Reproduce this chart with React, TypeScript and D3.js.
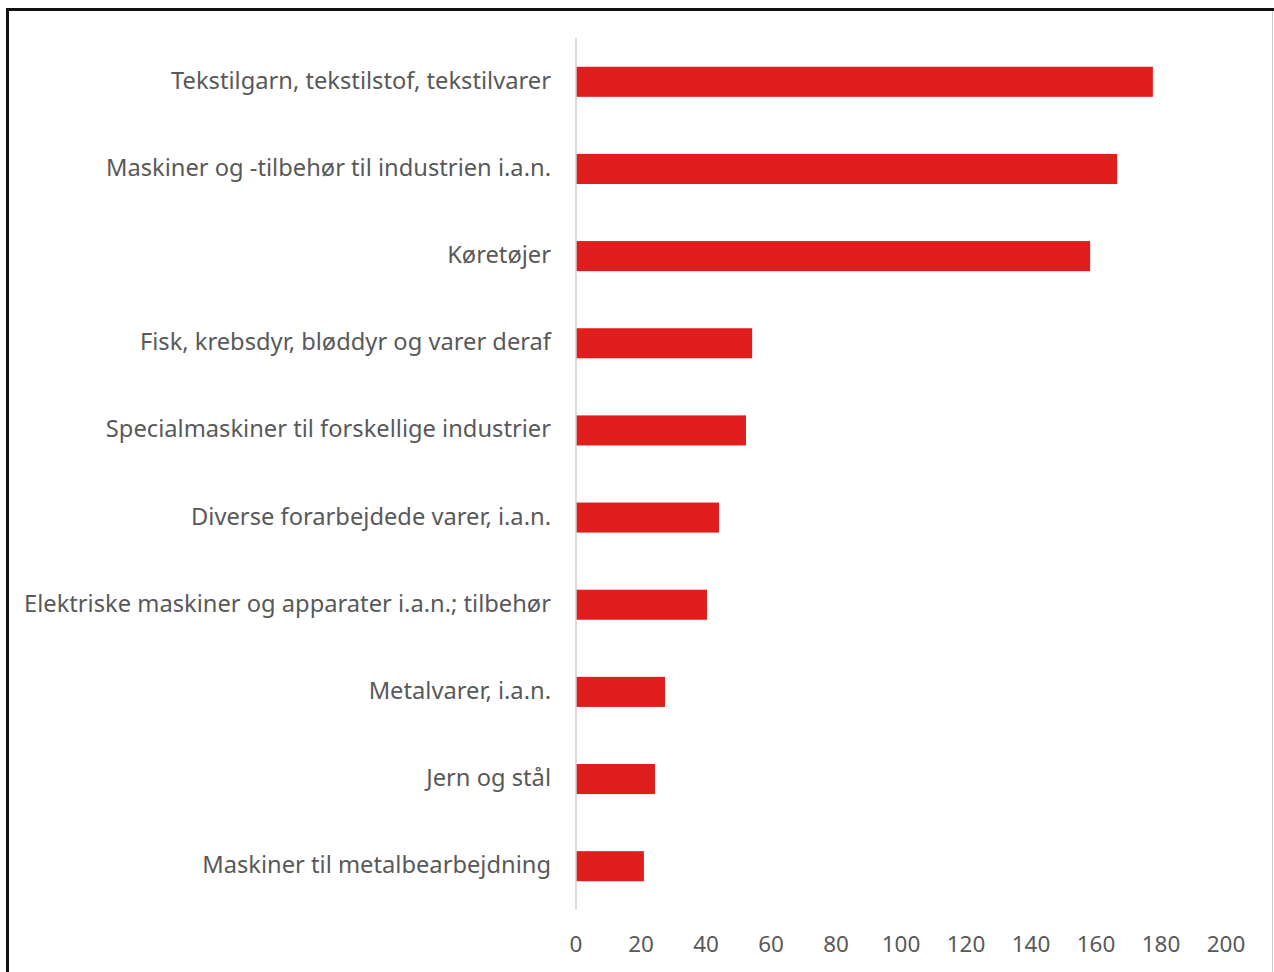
import React, { useEffect } from "react";
import * as d3 from "d3";

const categories = [
  "Tekstilgarn, tekstilstof, tekstilvarer",
  "Maskiner og -tilbehør til industrien i.a.n.",
  "Køretøjer",
  "Fisk, krebsdyr, bløddyr og varer deraf",
  "Specialmaskiner til forskellige industrier",
  "Diverse forarbejdede varer, i.a.n.",
  "Elektriske maskiner og apparater i.a.n.; tilbehør",
  "Metalvarer, i.a.n.",
  "Jern og stål",
  "Maskiner til metalbearbejdning",
];
const values = [177.5, 166.5, 158.2, 54.2, 52.3, 44, 40.3, 27.4, 24.3, 20.9];
const ticks = [0, 20, 40, 60, 80, 100, 120, 140, 160, 180, 200];

const W = 1274;
const H = 972;

export default function App() {
  useEffect(() => {
    document.body.style.margin = "0";
  }, []);
  const x = d3.scaleLinear().domain([0, 200]).range([576, 1226]);
  const y = d3.scaleBand().domain(categories).range([38, 910]).paddingInner(0.655).paddingOuter(0.33);
  const font = "'Noto Sans', 'Open Sans', sans-serif";
  return (
    <svg width={W} height={H} style={{ display: "block" }}>
      <rect x={0} y={0} width={W} height={H} fill="#fff" />
      <line x1={7.5} y1={9} x2={7.5} y2={H} stroke="#111" strokeWidth={3} />
      <line x1={6} y1={9.5} x2={W} y2={9.5} stroke="#111" strokeWidth={3} />
      <line x1={W - 1.5} y1={11} x2={W - 1.5} y2={H} stroke="#ccc" strokeWidth={1} />
      {categories.map((c, i) => (
        <g key={c}>
          <rect x={x(0)} y={y(c)!} width={x(values[i]) - x(0)} height={y.bandwidth()} fill="#e01e1e" />
          <text
            x={551}
            y={y(c)! + y.bandwidth() / 2 - 2}
            textAnchor="end"
            dominantBaseline="central"
            fontFamily={font}
            fontSize={23.7}
            fill="#595959"
          >
            {c}
          </text>
        </g>
      ))}
      <line x1={x(0)} y1={38} x2={x(0)} y2={910} stroke="#d0d0d0" strokeWidth={1.5} />
      {ticks.map((t) => (
        <text
          key={t}
          x={x(t)}
          y={943}
          textAnchor="middle"
          dominantBaseline="central"
          fontFamily={font}
          fontSize={22.5}
          fill="#595959"
        >
          {t}
        </text>
      ))}
    </svg>
  );
}
